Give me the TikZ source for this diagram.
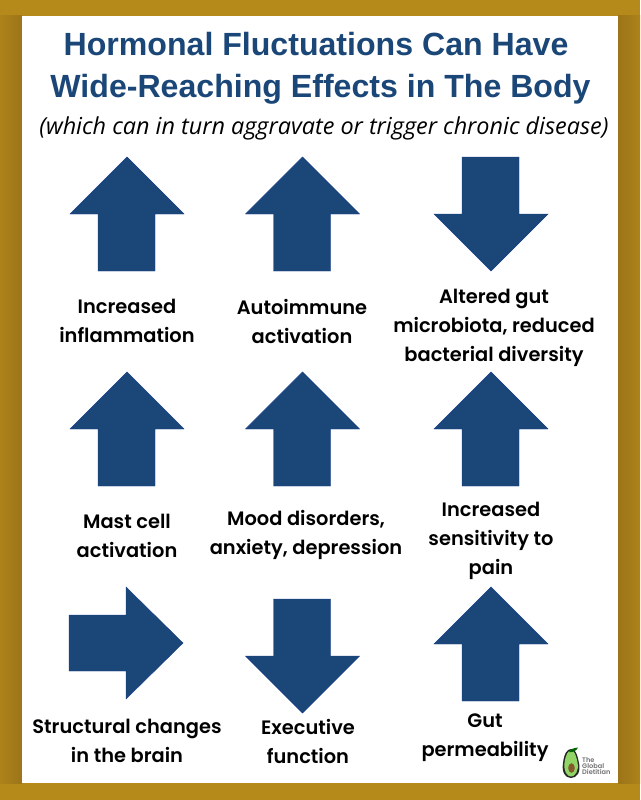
\documentclass[tikz,border=0pt]{standalone}
\usepackage{fontspec}
\setmainfont{Liberation Sans}
\newfontfamily\lab{Poppins SemiBold}
\newfontfamily\sub{Open Sans}
\definecolor{gold}{HTML}{B5891A}
\definecolor{goldd}{HTML}{AD821B}
\definecolor{goldk}{HTML}{9C7519}
\definecolor{navy}{HTML}{1A4778}
\begin{document}
\begin{tikzpicture}[x=1pt,y=-1pt,
  ttl/.style={font=\fontsize{32.1}{32}\selectfont\bfseries,text=navy,anchor=base,inner sep=0},
  subt/.style={font=\sub\itshape\fontsize{23.4}{23}\selectfont,anchor=base,inner sep=0},
  lbl/.style={font=\lab\fontsize{19.4}{29}\selectfont,align=center,inner sep=0,anchor=center},
  arr/.style={fill=navy,draw=navy!85!blue,line width=.4pt}]
\useasboundingbox (0,0) rectangle (640,800);
\fill[gold] (0,0) rectangle (640,800);
\fill[left color=goldd,right color=goldk] (0,16) rectangle (22,783);
\fill[left color=goldk,right color=goldd] (618,16) rectangle (640,783);
\fill[white] (22,16) rectangle (618,783);
\node[ttl] (t1) at (316,55.5) {Hormonal Fluctuations Can Have};
\node[ttl] (t2) at (320.5,97) {Wide-Reaching Effects in The Body};
\node[subt] (t3) at (324,134) {(which can in turn aggravate or trigger chronic disease)};
\def\up#1#2{\fill[arr] (#1,#2) -- ++(57,57) -- ++(-29,0) -- ++(0,57) -- ++(-57,0) -- ++(0,-57) -- ++(-28,0) -- cycle;}
\def\dn#1#2{\fill[arr] (#1,#2) -- ++(57,-57) -- ++(-29,0) -- ++(0,-57) -- ++(-57,0) -- ++(0,57) -- ++(-28,0) -- cycle;}
\up{127}{157}\up{302.5}{157}\dn{491}{271}
\up{127}{372}\up{302.5}{372}\up{491}{372}
\fill[arr] (183,643) -- (126,699) -- (126,671) -- (69,671) -- (69,615) -- (126,615) -- (126,587) -- cycle;
\dn{302.5}{713}\up{491}{587}
\node[lbl] (a) at (127,321) {Increased\\inflammation};
\node[lbl] (b) at (302,321) {Autoimmune\\activation};
\node[lbl] (c) at (494,328) {Altered gut\\microbiota, reduced\\bacterial diversity};
\node[lbl] (d) at (127,536) {Mast cell\\activation};
\node[lbl] (e) at (306,535) {Mood disorders,\\anxiety, depression};
\node[lbl] (f) at (491,541) {Increased\\sensitivity to\\pain};
\node[lbl] (g) at (127,741) {Structural changes\\in the brain};
\node[lbl] (h) at (308,741) {Executive\\function};
\node[lbl] (i) at (485,738) {Gut\\permeability};
% logo
\fill[black!85] (571,749) .. controls (575,749) and (577,753) .. (579,763) .. controls (581,772) and (577,778) .. (571,778) .. controls (565,778) and (561.5,772) .. (563,763) .. controls (564,754) and (567,749) .. (571,749) -- cycle;
\fill[green!45!olive!60!white] (571,750.5) .. controls (574.5,750.5) and (576,755) .. (577.6,763) .. controls (579,771) and (575,776.5) .. (571,776.5) .. controls (567,776.5) and (563.5,771) .. (564.5,763) .. controls (565.5,755) and (568,750.5) .. (571,750.5) -- cycle;
\fill[brown!70!black] (571.5,768) ellipse [x radius=3.3,y radius=4.8];
\fill[green!40!black] (569,752) .. controls (570,749) and (574,748) .. (578,747.5) .. controls (577,750) and (573,753) .. (569,752) -- cycle;
\node[font=\lab\fontsize{6.6}{6.2}\selectfont,text=black!55,align=left,anchor=west,inner sep=0] (logo) at (582,766) {The\\Global\\Dietitian};
\end{tikzpicture}
\end{document}
